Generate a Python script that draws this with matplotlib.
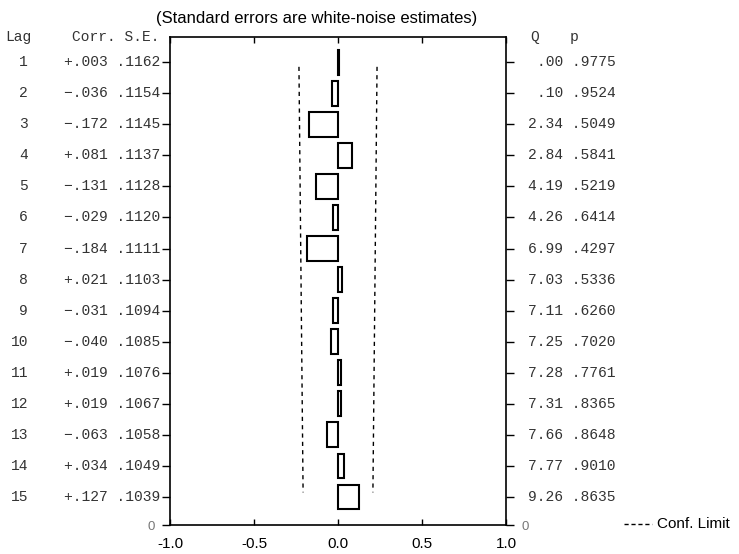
import matplotlib
matplotlib.use("Agg")
import matplotlib.pyplot as plt
import matplotlib.transforms as mtransforms
from matplotlib.patches import Rectangle
from matplotlib.lines import Line2D

lags = list(range(1, 16))
corr = [0.003, -0.036, -0.172, 0.081, -0.131, -0.029, -0.184, 0.021, -0.031,
        -0.040, 0.019, 0.019, -0.063, 0.034, 0.127]
se = [0.1162, 0.1154, 0.1145, 0.1137, 0.1128, 0.1120, 0.1111, 0.1103, 0.1094,
      0.1085, 0.1076, 0.1067, 0.1058, 0.1049, 0.1039]
qstat = [0.00, 0.10, 2.34, 2.84, 4.19, 4.26, 6.99, 7.03, 7.11, 7.25, 7.28,
         7.31, 7.66, 7.77, 9.26]
pval = [0.9775, 0.9524, 0.5049, 0.5841, 0.5219, 0.6414, 0.4297, 0.5336,
        0.6260, 0.7020, 0.7761, 0.8365, 0.8648, 0.9010, 0.8635]
xticks = [-1.0, -0.5, 0.0, 0.5, 1.0]


def fmt_corr(v):
    s = f"{abs(v):.3f}".lstrip("0")
    return ("+" if v >= 0 else "\u2212") + s


def fmt_dec(v, n):
    s = f"{v:.{n}f}"
    return s[1:] if s.startswith("0") else s


W, H = 739, 554
fig = plt.figure(figsize=(W / 100, H / 100), dpi=100)
ax = fig.add_axes([170 / W, 1 - 525 / H, 336 / W, 488 / H])

mono = "Liberation Mono"
sans = "Liberation Sans"
fs = 10.5
tcol = "#333333"

ypos = [15.9 - l for l in lags]
bh = 0.8
for y, c in zip(ypos, corr):
    ax.add_patch(Rectangle((0, y - bh / 2), c, bh, facecolor="white",
                           edgecolor="black", linewidth=1.5))

# confidence limits (±2 standard errors)
lo = [-2 * s for s in se]
hi = [2 * s for s in se]
ax.plot([lo[0], lo[-1]], [ypos[0] - 0.15, ypos[-1] + 0.15], color="black",
        linestyle=(0, (3, 3)), linewidth=1.0)
ax.plot([hi[0], hi[-1]], [ypos[0] - 0.15, ypos[-1] + 0.15], color="black",
        linestyle=(0, (3, 3)), linewidth=1.0)

ax.set_xlim(-1.0, 1.0)
ax.set_ylim(0, 15.71)
ax.set_xticks(xticks)
ax.set_xticklabels([f"{t:.1f}" for t in xticks], fontfamily=sans, fontsize=11)
ax.set_yticks([0] + ypos)
ax.set_yticklabels(["0"] + [""] * len(ypos), fontfamily=sans, fontsize=9.5,
                   color="#777777")
ax.tick_params(axis="y", which="both", direction="out", length=6, width=1,
               left=True, right=True, labelleft=True, labelright=True, pad=5)
ax.tick_params(axis="x", which="both", direction="in", length=4, width=1,
               top=True, bottom=True, pad=9)
for sp in ax.spines.values():
    sp.set_linewidth(1.2)

tr = mtransforms.blended_transform_factory(fig.transFigure, ax.transData)
trf = fig.transFigure


def px(x):
    return x / W


def py(y):
    return 1 - y / H


fig.text(px(5), py(37), "Lag", fontfamily=mono, fontsize=fs, va="center",
         ha="left", color=tcol)
fig.text(px(160), py(37), "Corr. S.E.", fontfamily=mono, fontsize=fs,
         va="center", ha="right", color=tcol)
fig.text(px(535), py(37), "Q", fontfamily=mono, fontsize=fs, va="center",
         ha="center", color=tcol)
fig.text(px(574), py(37), "p", fontfamily=mono, fontsize=fs, va="center",
         ha="center", color=tcol)

for l, y, c, s, q, p in zip(lags, ypos, corr, se, qstat, pval):
    ax.text(px(28), y, str(l), transform=tr, fontfamily=mono, fontsize=fs,
            ha="right", va="center", color=tcol)
    ax.text(px(160), y, f"{fmt_corr(c)} {fmt_dec(s, 4)}", transform=tr,
            fontfamily=mono, fontsize=fs, ha="right", va="center",
            color=tcol)
    ax.text(px(616), y, f"{fmt_dec(q, 2)} {fmt_dec(p, 4)}", transform=tr,
            fontfamily=mono, fontsize=fs, ha="right", va="center",
            color=tcol)

fig.text(px(317), py(18), "(Standard errors are white-noise estimates)",
         fontfamily=sans, fontsize=12, ha="center", va="center")

# legend
fig.add_artist(Line2D([px(624), px(652)], [py(524), py(524)], color="black",
                      linestyle=(0, (3, 2)), linewidth=1.0, transform=trf))
fig.text(px(657), py(524), "Conf. Limit", fontfamily=sans, fontsize=11,
         ha="left", va="center")

fig.savefig("out.png", dpi=100)
